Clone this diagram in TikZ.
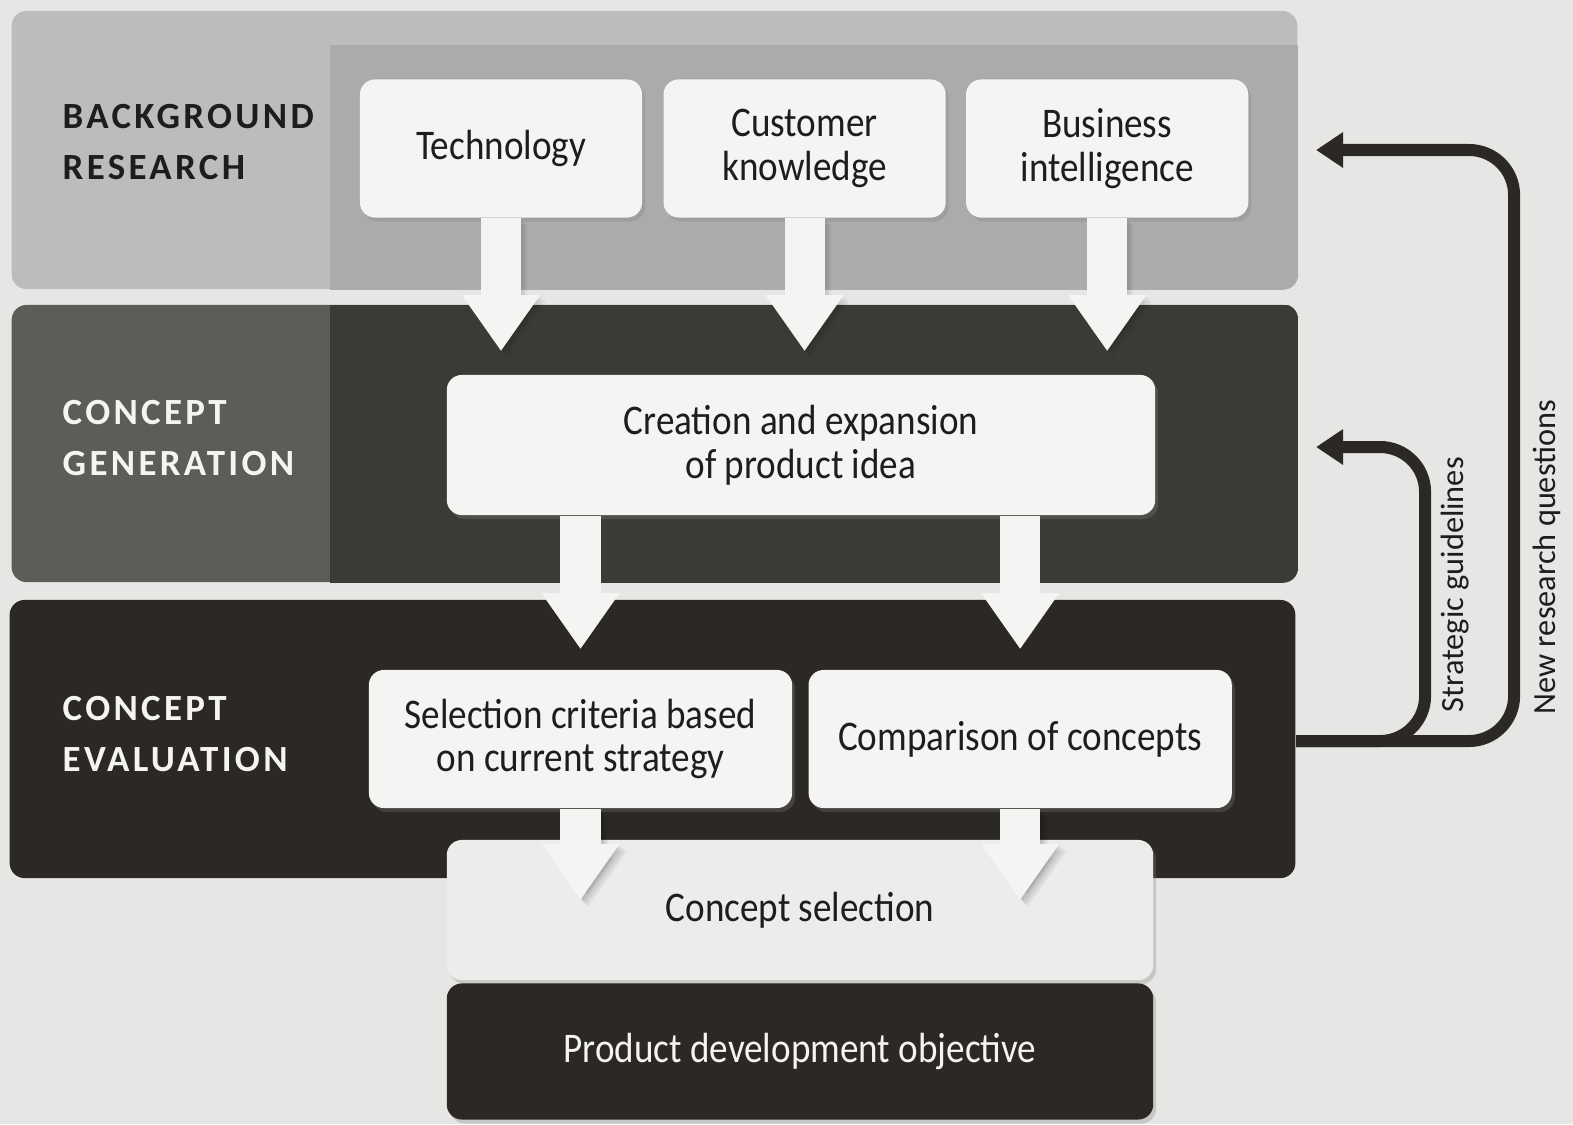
\documentclass[tikz,border=0pt]{standalone}
\usepackage{fontspec}
\setmainfont{Carlito}[FakeStretch=0.88]
\newfontfamily\headfont{Carlito}[LetterSpace=9]
\newfontfamily\sidefont{Carlito}
\usetikzlibrary{arrows.meta, positioning, shadows}

\definecolor{paper}{HTML}{E6E6E4}
\definecolor{bandA}{HTML}{BCBCBA}
\definecolor{bandAin}{HTML}{ABABA9}
\definecolor{bandB}{HTML}{5D5C58}
\definecolor{bandBin}{HTML}{3C3A36}
\definecolor{bandC}{HTML}{2C2823}
\definecolor{boxfill}{HTML}{F4F4F2}
\definecolor{selfill}{HTML}{ECECEA}
\definecolor{inkdark}{HTML}{1E1D1B}

\begin{document}
\begin{tikzpicture}[x=0.01cm, y=-0.01cm,
        band/.style = {
            rectangle,
            rounded corners=0.15cm,
            inner sep=0pt,
            minimum width=12.85cm,
            minimum height=2.78cm
        },
        stage/.style = {
            rectangle,
            fill=boxfill,
            rounded corners=0.15cm,
            align=center,
            text=inkdark,
            font=\fontsize{12}{12.4}\selectfont,
            inner sep=0pt,
            minimum height=1.38cm,
            drop shadow={shadow xshift=0.03cm, shadow yshift=-0.04cm, opacity=0.3}
        },
        phase/.style = {
            anchor=west,
            align=left,
            inner sep=0pt,
            font=\headfont\bfseries\fontsize{10.5}{14.5}\selectfont
        },
        flow/.style = {draw=boxfill, line width=0.4cm, -{Triangle[length=0.56cm, width=0.74cm]}},
        flowshade/.style = {draw=black, opacity=0.045, line width=0.4cm, -{Triangle[length=0.56cm, width=0.74cm]},
            transform canvas={xshift=#1, yshift=-#1}},
        fback/.style = {draw=bandC, line width=0.12cm, rounded corners=0.45cm,
            -{Triangle[length=0.27cm, width=0.34cm]}, shorten >=0.18cm},
        side/.style = {rotate=90, anchor=base west, inner sep=0pt, text=inkdark,
            font=\sidefont\fontsize{9.2}{11}\selectfont}
    ]

    \fill[paper] (0,0) rectangle (1573,1124);

    % phase bands
    \node (resband) [band, fill=bandA] at (654.5,150) {};
    \node (genband) [band, fill=bandB, minimum height=2.77cm] at (654.5,443.5) {};
    \node (evalband) [band, fill=bandC] at (652.5,739) {};

    \begin{scope}
        \clip[rounded corners=0.15cm] (resband.south west) rectangle (resband.north east);
        \fill[bandAin] (330,45) rectangle (resband.south east);
    \end{scope}
    \begin{scope}
        \clip[rounded corners=0.15cm] (genband.south west) rectangle (genband.north east);
        \fill[bandBin] (330,305) rectangle (genband.south east);
    \end{scope}

    \node (res_lbl) [phase, text=inkdark] at (62,142.5) {BACKGROUND\\RESEARCH};
    \node (gen_lbl) [phase, text=boxfill] at (62,438.5) {CONCEPT\\GENERATION};
    \node (eval_lbl) [phase, text=boxfill] at (62,734.5) {CONCEPT\\EVALUATION};

    % feedback loops
    \draw[fback] (evalband.east |- 0,741) -- ++(129,0) |- (genband.east |- 0,447);
    \draw[fback] (evalband.east |- 0,741) -- ++(218,0) |- (resband.east |- 0,150);
    \node (strat_lbl) [side] at (1463,713) {Strategic guidelines};
    \node (newq_lbl) [side] at (1555,715) {New research questions};

    % activities
    \node (tech) [stage, minimum width=2.82cm] at (501,148.5) {Technology};
    \node (cust) [stage, minimum width=2.82cm, right=0.2cm of tech] {Customer\\knowledge};
    \node (bi) [stage, minimum width=2.82cm, right=0.19cm of cust] {Business\\intelligence};

    \node (creat) [stage, minimum width=7.08cm, minimum height=1.40cm] at (801,445) {Creation and expansion\\of product idea};

    \node (sel) [stage, minimum width=4.23cm] at (580.5,739) {Selection criteria based\\on current strategy};
    \node (comp) [stage, minimum width=4.23cm, right=0.15cm of sel] {Comparison of concepts};

    \node (csel) [stage, fill=selfill, minimum width=7.06cm, minimum height=1.40cm] at (800,910) {Concept selection};
    \node (prod) [stage, fill=bandC, text=boxfill, minimum width=7.06cm, minimum height=1.36cm,
        below=0.02cm of csel] {Product development objective};

    % block arrows
    \foreach \src in {tech, cust, bi} {
        \foreach \k in {0.02cm, 0.04cm, 0.06cm}
            \draw[flowshade=\k, shorten >=0.23cm] (\src.south) -- (\src |- creat.north);
        \draw[flow, shorten >=0.23cm] (\src.south) -- (\src |- creat.north);
    }
    \foreach \dst in {sel, comp} {
        \draw[flow, shorten >=0.2cm] (creat.south -| \dst) -- (\dst.north);
        \foreach \k in {0.015cm, 0.03cm, 0.045cm, 0.06cm, 0.075cm}
            \draw[flowshade=\k, shorten >=0.1cm] (\dst.south) -- (\dst |- csel.center);
        \draw[flow, shorten >=0.1cm] (\dst.south) -- (\dst |- csel.center);
    }

\end{tikzpicture}
\end{document}
